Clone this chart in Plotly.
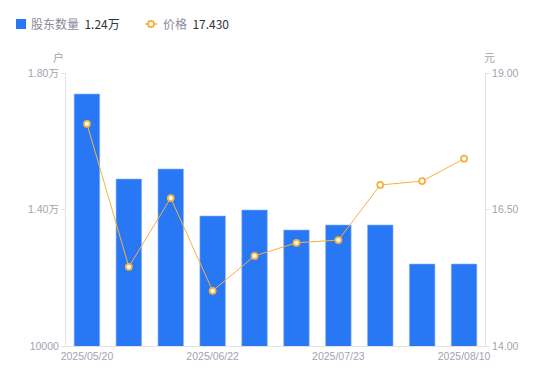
import plotly.graph_objects as go

dates = ["2025/05/20", "2025/05/31", "2025/06/10", "2025/06/22", "2025/06/30",
         "2025/07/10", "2025/07/23", "2025/07/31", "2025/08/05", "2025/08/10"]
holders = [17385, 14894, 15187, 13810, 13985, 13399, 13546, 13546, 12403, 12403]
prices = [18.07, 15.45, 16.71, 15.01, 15.65, 15.89, 15.94, 16.95, 17.02, 17.43]
x_tick_labels = ["2025/05/20", "2025/06/22", "2025/07/23", "2025/08/10"]
left_ticks = [10000, 14000, 18000]
left_tick_text = ["10000", "1.40万", "1.80万"]
right_ticks = [14.0, 16.5, 19.0]
right_tick_text = ["14.00", "16.50", "19.00"]

BLUE = "#2878F5"
ORANGE = "#F7B13E"
AXIS = "#E3E3E3"
TICKC = "#A3A3B0"
FONT = "Noto Sans CJK SC"

fig = go.Figure()
fig.add_trace(go.Bar(
    x=dates, y=holders, name="股东数量",
    marker=dict(color=BLUE, line=dict(color="#8FB6F9", width=0.6)),
    width=0.61, yaxis="y",
))
fig.add_trace(go.Scatter(
    x=dates, y=prices, name="价格", mode="lines+markers",
    line=dict(color=ORANGE, width=1),
    marker=dict(symbol="circle", size=6, color="white", line=dict(color=ORANGE, width=1.8)),
    yaxis="y2",
))

fig.update_layout(
    width=550, height=381,
    margin=dict(l=58, r=73, t=65, b=43),
    paper_bgcolor="white", plot_bgcolor="white",
    font=dict(family=FONT, size=11, color=TICKC),
    showlegend=False,
    xaxis=dict(
        type="category", tickmode="array", tickvals=x_tick_labels, ticktext=x_tick_labels,
        showline=True, linecolor=AXIS, linewidth=1, ticks="", showgrid=False,
        tickfont=dict(size=10.5, color=TICKC, family="Liberation Sans, Arial"),
        range=[-0.5, 9.5],
    ),
    yaxis=dict(
        range=[10000, 18000], tickmode="array", tickvals=left_ticks, ticktext=left_tick_text,
        showline=True, linecolor=AXIS, linewidth=1, ticks="outside", ticklen=4, tickcolor=AXIS,
        showgrid=False, zeroline=False,
        tickfont=dict(size=10.5, color=TICKC, family="Liberation Sans, Noto Sans CJK SC"),
    ),
    yaxis2=dict(
        range=[14, 19], overlaying="y", side="right", tickmode="array",
        tickvals=right_ticks, ticktext=right_tick_text,
        showline=True, linecolor=AXIS, linewidth=1, ticks="outside", ticklen=4, tickcolor=AXIS,
        showgrid=False, zeroline=False,
        tickfont=dict(size=10.5, color=TICKC, family="Liberation Sans, Arial"),
    ),
)

PW, PH, L, T = 419, 273, 66, 73  # plot area in page pixels

def px(x):
    return (x - L) / PW

def py(y):
    return 1 + (T - y) / PH

# custom legend
fig.add_shape(type="rect", xref="paper", yref="paper",
              x0=px(16), x1=px(26), y0=py(19), y1=py(29),
              fillcolor=BLUE, line=dict(width=0), layer="above")
fig.add_annotation(xref="paper", yref="paper", x=px(29), y=py(24), xanchor="left", yanchor="middle",
                   text="股东数量 <span style='color:#333333'> 1.24万</span>", showarrow=False,
                   font=dict(size=12, color="#8A8A99", family=FONT))
fig.add_shape(type="line", xref="paper", yref="paper",
              x0=px(145), x1=px(157), y0=py(24), y1=py(24),
              line=dict(color=ORANGE, width=1.5))
fig.add_shape(type="circle", xref="paper", yref="paper",
              x0=px(148), x1=px(154), y0=py(21), y1=py(27),
              fillcolor="white", line=dict(color=ORANGE, width=1.8))
fig.add_annotation(xref="paper", yref="paper", x=px(161), y=py(24), xanchor="left", yanchor="middle",
                   text="价格 <span style='color:#333333'> 17.430</span>", showarrow=False,
                   font=dict(size=12, color="#8A8A99", family=FONT))

# axis unit titles
fig.add_annotation(xref="paper", yref="paper", x=px(58), y=py(57), xanchor="center", yanchor="middle",
                   text="户", showarrow=False, font=dict(size=11, color=TICKC, family=FONT))
fig.add_annotation(xref="paper", yref="paper", x=px(490), y=py(57), xanchor="center", yanchor="middle",
                   text="元", showarrow=False, font=dict(size=11, color=TICKC, family=FONT))

fig.write_html("out.html")
